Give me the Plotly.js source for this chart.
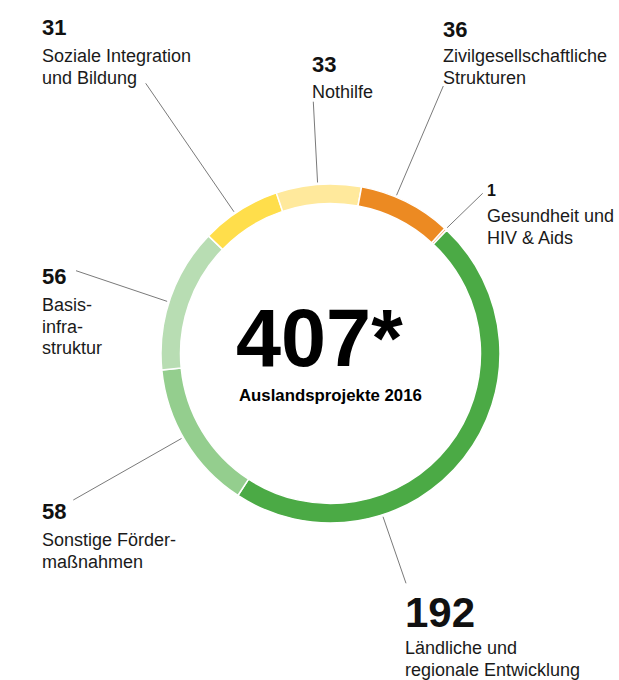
<!DOCTYPE html>
<html>
<head>
<meta charset="utf-8">
<script src="https://cdn.plot.ly/plotly-3.0.1.min.js"></script>
<style>
  html, body { margin: 0; padding: 0; background: #ffffff; }
  #chart { width: 619px; height: 680px; }
</style>
</head>
<body>
<div id="chart"></div>
<script>
// ---------- data ----------
const categories = [
  'Gesundheit und HIV & Aids',
  'Ländliche und regionale Entwicklung',
  'Sonstige Fördermaßnahmen',
  'Basisinfrastruktur',
  'Soziale Integration und Bildung',
  'Nothilfe',
  'Zivilgesellschaftliche Strukturen'
];
const values = [1, 192, 58, 56, 31, 33, 36];
const labelLines = [
  ['Gesundheit und', 'HIV & Aids'],
  ['Ländliche und', 'regionale Entwicklung'],
  ['Sonstige Förder-', 'maßnahmen'],
  ['Basis-', 'infra-', 'struktur'],
  ['Soziale Integration', 'und Bildung'],
  ['Nothilfe'],
  ['Zivilgesellschaftliche', 'Strukturen']
];
const centerSubtitle = 'Auslandsprojekte 2016';
const totalSuffix = '*';

// ---------- styling / layout ----------
const colors = ['#F5B077', '#4BAA45', '#94CE8E', '#B8DDB3', '#FFDE4B', '#FFE99C', '#EC8A22'];
const W = 619, H = 680;
const FONT = 'Liberation Sans, Arial, sans-serif';
const cx = 330.5, cy = 353.5, rOuter = 169.5, rInner = 150;
const rotation = 42.4;
const leaderR = 171.5;
const lineGap = 21.8;
const textSize = 18;

// per-label placement (pixel positions of text and leader ends)
const labelPos = [
  {x: 484.5, numBase: 195,   numSize: 16, firstBase: 221.7, lead: [482.7, 193.3], frac: 0.5},
  {x: 403,   numBase: 626,   numSize: 42, firstBase: 653,   lead: [406, 583.3],   frac: 0.70},
  {x: 39.7,  numBase: 518.3, numSize: 22, firstBase: 545,   lead: [73.3, 500],    frac: 0.53},
  {x: 39.7,  numBase: 283,   numSize: 22, firstBase: 310,   lead: [76, 270.7],    frac: 0.47},
  {x: 39.7,  numBase: 34.3,  numSize: 22, firstBase: 61.7,  lead: [145.7, 83.3],  frac: 0.43},
  {x: 309.7, numBase: 70.7,  numSize: 22, firstBase: 97.3,  lead: [313.3, 101.7], frac: 0.49},
  {x: 441.3, numBase: 36,    numSize: 22, firstBase: 61.7,  lead: [443.3, 86],    frac: 0.38}
];

const px = x => x / W;
const py = y => 1 - y / H;
const topFromBase = (base, size) => base - 1 - 0.905 * size;

const total = values.reduce((a, b) => a + b, 0);

const annotations = [];
const shapes = [];
let cum = 0;
values.forEach((v, i) => {
  const p = labelPos[i];
  // number
  annotations.push({
    xref: 'paper', yref: 'paper', showarrow: false,
    xanchor: 'left', yanchor: 'top',
    x: px(p.x), y: py(topFromBase(p.numBase, p.numSize)),
    text: '<b>' + v + '</b>',
    font: {family: FONT, size: p.numSize, color: '#111111'}
  });
  // description lines
  labelLines[i].forEach((line, j) => {
    annotations.push({
      xref: 'paper', yref: 'paper', showarrow: false,
      xanchor: 'left', yanchor: 'top',
      x: px(p.x), y: py(topFromBase(p.firstBase + j * lineGap, textSize)),
      text: line,
      font: {family: FONT, size: textSize, color: '#1a1a1a'}
    });
  });
  // leader line from ring to label
  const ang = (rotation + (cum + v * p.frac) / total * 360) * Math.PI / 180;
  const rx = cx + leaderR * Math.sin(ang);
  const ry = cy - leaderR * Math.cos(ang);
  shapes.push({
    type: 'line', xref: 'paper', yref: 'paper',
    x0: px(rx), y0: py(ry), x1: px(p.lead[0]), y1: py(p.lead[1]),
    line: {color: '#7a7a7a', width: 1}
  });
  cum += v;
});

// center text
annotations.push({
  xref: 'paper', yref: 'paper', showarrow: false,
  xanchor: 'left', yanchor: 'top',
  x: px(234), y: py(topFromBase(365, 81)),
  text: '<b>' + total + totalSuffix + '</b>',
  font: {family: FONT, size: 81, color: '#000000'}
});
annotations.push({
  xref: 'paper', yref: 'paper', showarrow: false,
  xanchor: 'center', yanchor: 'top',
  x: px(cx), y: py(topFromBase(400, 16.8)),
  text: '<b>' + centerSubtitle + '</b>',
  font: {family: FONT, size: 16.8, color: '#000000'}
});

const trace = {
  type: 'pie',
  values: values,
  labels: categories,
  sort: false,
  direction: 'clockwise',
  rotation: rotation,
  hole: rInner / rOuter,
  textinfo: 'none',
  hoverinfo: 'label+value',
  marker: {colors: colors, line: {color: '#ffffff', width: 1.5}},
  domain: {
    x: [px(cx - rOuter), px(cx + rOuter)],
    y: [py(cy + rOuter), py(cy - rOuter)]
  },
  showlegend: false
};

const layout = {
  width: W, height: H,
  margin: {l: 0, r: 0, t: 0, b: 0},
  paper_bgcolor: '#ffffff',
  plot_bgcolor: '#ffffff',
  showlegend: false,
  annotations: annotations,
  shapes: shapes,
  font: {family: FONT}
};

Plotly.newPlot('chart', [trace], layout, {displayModeBar: false, staticPlot: true});
</script>
</body>
</html>
